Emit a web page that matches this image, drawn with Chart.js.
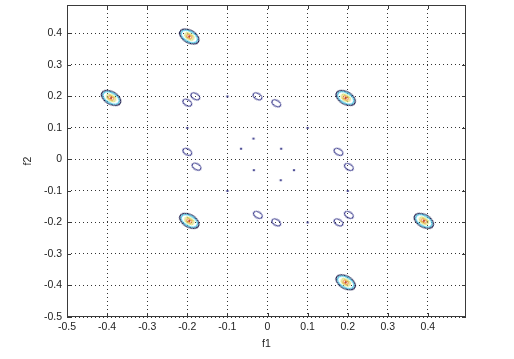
<!DOCTYPE html>
<html>
<head>
<meta charset="utf-8">
<script src="https://cdn.jsdelivr.net/npm/chart.js@4/dist/chart.umd.min.js"></script>
<style>
  html, body { margin: 0; padding: 0; background: #fff; }
  #wrap { width: 514px; height: 359px; }
</style>
</head>
<body>
<div id="wrap"><canvas id="myChart"></canvas></div>
<script>
// peak centres (f1, f2)
const peakF1 = [-0.195, -0.39, 0.195, -0.195, 0.39, 0.195];
const peakF2 = [0.39, 0.195, 0.195, -0.195, -0.195, -0.39];
// low single-level contour rings
const ringF1 = [-0.20, -0.18, -0.025, 0.022, -0.20, -0.177, 0.177, 0.203, -0.024, 0.022, 0.177, 0.203];
const ringF2 = [0.18, 0.20, 0.20, 0.178, 0.024, -0.023, 0.024, -0.024, -0.176, -0.20, -0.20, -0.176];
// tiny blobs
const blobF1 = [-0.035, -0.066, 0.034, -0.034, 0.066, 0.033, -0.1, -0.2, 0.1, -0.1, 0.2, 0.1];
const blobF2 = [0.066, 0.034, 0.034, -0.034, -0.034, -0.066, 0.2, 0.1, 0.1, -0.1, -0.1, -0.2];
const xTicks = [-0.5, -0.4, -0.3, -0.2, -0.1, 0, 0.1, 0.2, 0.3, 0.4];
const yTicks = [-0.5, -0.4, -0.3, -0.2, -0.1, 0, 0.1, 0.2, 0.3, 0.4];

const toPts = (xs, ys) => xs.map((x, i) => ({x: x, y: ys[i]}));

// contour glyph images
function makeGlyph(w, h, rings) {
  const c = document.createElement('canvas');
  c.width = w; c.height = h;
  const g = c.getContext('2d');
  rings.forEach(r => {
    g.beginPath();
    g.ellipse(w / 2, h / 2, r[0], r[1], 0, 0, Math.PI * 2);
    if (r[3]) { g.fillStyle = r[2]; g.fill(); }
    else { g.strokeStyle = r[2]; g.lineWidth = 1.1; g.stroke(); }
  });
  return c;
}
const peakImg = makeGlyph(28, 20, [
  [10.5, 6.2, '#0c0c40'],
  [8.9, 5.1, '#40c8e8'],
  [5, 2.9, '#d6e47a'],
  [3, 1.8, '#eea040'],
  [1.3, 0.9, '#b83018', true]
]);
const ringImg = makeGlyph(14, 10, [[4.8, 3, '#262680']]);
const blobImg = makeGlyph(6, 6, [[1.3, 1, '#3a3a8a', true]]);

const frame = {
  id: 'frame',
  afterDraw(chart) {
    const {ctx, chartArea: a, scales} = chart;
    ctx.save();
    ctx.strokeStyle = '#3a3a3a';
    ctx.lineWidth = 1;
    ctx.strokeRect(a.left + 0.5, a.top + 0.5, a.right - a.left - 1, a.bottom - a.top - 1);
    ctx.beginPath();
    xTicks.forEach(v => {
      const px = Math.round(scales.x.getPixelForValue(v)) + 0.5;
      ctx.moveTo(px, a.bottom); ctx.lineTo(px, a.bottom - 4);
      ctx.moveTo(px, a.top); ctx.lineTo(px, a.top + 4);
    });
    yTicks.forEach(v => {
      const py = Math.round(scales.y.getPixelForValue(v)) + 0.5;
      ctx.moveTo(a.left, py); ctx.lineTo(a.left + 4, py);
      ctx.moveTo(a.right, py); ctx.lineTo(a.right - 4, py);
    });
    ctx.stroke();
    ctx.restore();
  }
};

const tickFont = {family: 'Liberation Sans, Arial, sans-serif', size: 10.5};

const ctx = document.getElementById('myChart').getContext('2d');
const myChart = new Chart(ctx, {
  type: 'scatter',
  data: {
    datasets: [
      { data: toPts(blobF1, blobF2), pointStyle: blobImg, rotation: 0 },
      { data: toPts(ringF1, ringF2), pointStyle: ringImg, rotation: 30 },
      { data: toPts(peakF1, peakF2), pointStyle: peakImg, rotation: 30 }
    ]
  },
  options: {
    responsive: true,
    maintainAspectRatio: false,
    animation: false,
    layout: { padding: { top: 4, right: 48, left: 0, bottom: 0 } },
    plugins: { legend: { display: false }, tooltip: { enabled: false } },
    scales: {
      x: {
        type: 'linear',
        min: -0.5,
        max: 0.495,
        afterBuildTicks: s => { s.ticks = xTicks.map(v => ({value: v})); },
        afterFit: s => { s.height = 42; s.paddingLeft = 0; s.paddingRight = 0; },
        grid: { color: '#333', drawTicks: false, lineWidth: 1 },
        border: { display: false, dash: [1, 3] },
        ticks: { color: '#222', font: tickFont, padding: 4, maxRotation: 0, callback: v => String(v) },
        title: { display: true, text: 'f1', color: '#222', font: tickFont, padding: { top: 9, bottom: 9 } }
      },
      y: {
        type: 'linear',
        min: -0.5,
        max: 0.49,
        afterBuildTicks: s => { s.ticks = yTicks.map(v => ({value: v})); },
        afterFit: s => { s.width = 67; s.paddingTop = 0; s.paddingBottom = 0; },
        grid: { color: '#333', drawTicks: false, lineWidth: 1 },
        border: { display: false, dash: [1, 3] },
        ticks: { color: '#222', font: tickFont, padding: 5, callback: v => String(v) },
        title: { display: true, text: 'f2', color: '#222', font: tickFont, padding: { top: 22, bottom: 22 } }
      }
    }
  },
  plugins: [frame]
});
</script>
</body>
</html>
